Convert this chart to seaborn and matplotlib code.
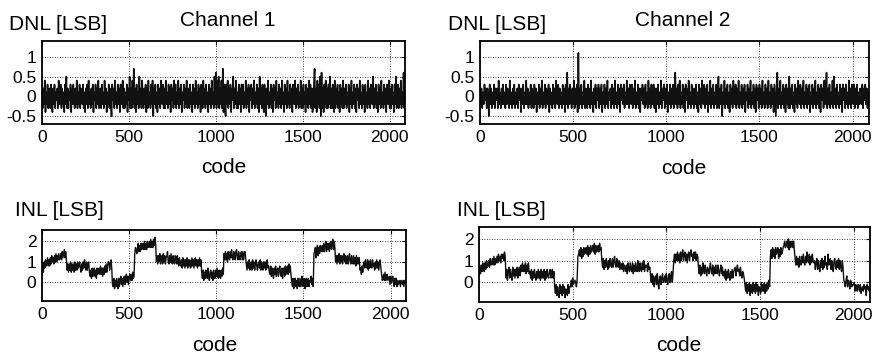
import numpy as np
import pandas as pd
import matplotlib
matplotlib.use("Agg")
import matplotlib.pyplot as plt
import seaborn as sns

# --- Data (values in tenths of an LSB, one sample every 4 codes) ---
CODE_STEP = 4
X_TICKS = [0, 500, 1000, 1500, 2000]
DNL_TICKS = [-0.5, 0, 0.5, 1]
DNL_TICK_LABELS = ["-0.5", "0", "0.5", "1"]
INL_TICKS = [0, 1, 2]
TITLES = ["Channel 1", "Channel 2"]

dnl_ch1 = [
    3, -3, 2, -2, 4, -4, 1, -2, 3, -3, 0, 2, -3, 3, -1, -4, 2, -2, 3, -3, 1, -1, 2, -3, 4, -2, 0, 3, -3, 2, -2, 1,
    -4, 3, -2, 5, -3, 2, -3, 1, -1, 3, -4, 2, -2, 3, -1, -3, 2, -2, 4, -3, 1, -2, 3, -3, 2, -1, -2, 3, -3, 1, -4, 2,
    -2, 3, -3, 4, -2, 1, -3, 2, -2, 3, -4, 1, -1, 3, -3, 2, -2, 4, -3, 0, 2, -3, 3, -2, 1, -3, 4, -2, 2, -4, 1, -2,
    3, -3, 2, -2, -5, 3, -1, 2, -3, 4, -2, 1, -3, 3, -2, 2, -4, 3, -1, -2, 4, -3, 2, -3, 1, -2, 3, -4, 2, -1, 5, -3,
    2, -3, 4, -2, 7, -3, 2, -4, 3, -2, 1, -3, 5, -2, 2, -3, 4, -1, -3, 2, -2, 3, -4, 2, -3, 4, -2, 1, -3, 3, -2, 4,
    -5, 2, -2, 3, -3, 1, -4, 3, -2, 2, -3, 4, -1, -2, 3, -3, 2, -3, 4, -2, 1, -3, 3, -2, 2, -4, 3, -1, 2, -3, 4, -2,
    3, -3, 1, -2, 4, -3, 2, -2, 3, -4, 1, -1, 3, -3, 2, -2, 4, -3, -1, 2, -3, 3, -2, 1, -4, 3, -2, 2, -3, 4, -2, 1,
    -3, 3, -2, 2, -4, 3, -1, -3, 4, -2, 2, -3, 3, -2, 1, -4, 3, -2, 2, -3, 4, -2, 1, -3, 5, -2, 6, -3, 4, -2, 5, -3,
    2, -2, 4, -3, 7, -4, 3, -2, -5, 3, -2, 4, -3, 2, -2, 3, -4, 2, -1, 5, -3, 2, -2, 4, -3, 1, -3, 3, -2, 2, -4, 3,
    -2, 3, -3, 1, -2, 4, -3, 2, -2, 3, -4, 2, -1, 3, -3, 2, -2, 4, -3, 1, -2, 3, -3, 2, -4, 5, -2, 2, -3, 3, -2, -4,
    3, -3, -5, 2, -2, 4, -3, 1, -2, 3, -3, 2, -4, 3, -1, 2, -3, 4, -2, 1, -3, 3, -2, 2, -3, 4, -2, 1, -4, 3, -2, 2,
    -3, 4, -2, 1, -3, 3, -2, 2, -4, 3, -1, -2, 4, -3, 2, -2, 3, -3, 1, -2, 4, -3, 2, -3, 3, -2, 1, -4, 3, -2, 2, -3,
    4, -2, 3, -3, 2, -4, -2, 3, 7, -3, 2, -4, 4, -2, 3, -3, 5, -5, 6, -3, 2, -4, 3, -2, 4, -3, 2, -3, 3, -2, 5, -3,
    2, -3, 3, -2, -4, 4, -3, 2, -2, 3, -3, 1, -4, 3, -2, 2, -3, 4, -3, 2, -2, 3, -3, 1, -2, 3, -4, 2, -2, 4, -3, 1,
    -2, 3, -3, 2, -4, 3, -1, 2, -3, 4, -2, 1, -3, 3, -2, 2, -4, 3, -2, 1, -3, 4, -2, 2, -3, 3, -1, -2, 5, -3, 2, -2,
    3, -3, 1, -4, 3, -2, 2, -3, 4, -2, 1, -3, 3, -2, 2, -4, 3, -1, -2, 4, -3, 2, -3, 3, -2, 1, -4, 3, -2, 5, -3, 2,
    3, -3, 2, -2, 4, -3, 1, -2, 6, -3, 2,
]

dnl_ch2 = [
    3, -2, 2, -3, 1, -2, 3, -1, 2, -3, 2, -1, -5, 3, -2, 2, -3, 1, -2, 3, -3, 2, -1, 2, -3, 4, -2, 1, -3, 2, -2, 3,
    -2, 1, -3, 3, -2, 2, -1, -3, 4, -2, 1, -3, 2, -2, 3, -3, 1, -2, 2, -3, 3, -1, 2, -4, 2, -2, 3, -3, 1, -2, 4, -2,
    2, -3, 1, -2, 3, -3, 2, -1, -3, 3, -2, 2, -4, 1, -2, 3, -3, 2, -2, 4, -3, 1, -2, 3, -3, 2, -1, -2, 3, -4, 2, -2,
    1, -3, 3, -2, 2, -3, 4, -1, -2, 3, -3, 2, -2, 1, -3, 3, -2, 2, -4, 3, -2, 6, -3, 2, -2, 3, -1, -3, 2, -2, 4, -3,
    2, -2, 3, -4, 11, -3, 2, -2, 3, -3, 1, -2, 4, -3, 2, -1, -3, 3, -2, 2, -3, 4, -2, 1, -4, 2, -2, 3, -3, 2, -1, 3,
    -3, 2, -2, 3, -4, 1, -2, 3, -3, 2, -2, 4, -3, 1, -1, 2, -3, 3, -2, 2, -3, 4, -2, 1, -3, 3, -2, 2, -4, 3, -1, 2,
    -2, 3, -3, 1, -2, 4, -2, 2, -3, 3, -1, -2, 3, -3, 2, -2, 4, -3, 1, -2, 3, -3, 2, -4, 2, -1, 3, -2, 2, -3, 3, -2,
    1, -3, 4, -2, 2, -3, 3, -1, -2, 3, -3, 2, -4, 2, -2, 3, -3, 1, -2, 4, -3, 2, -1, 3, -3, 2, -2, 3, -4, 1, -2, 3,
    -3, 2, -2, 3, -3, 1, 6, -2, 2, -3, 3, -2, 4, -3, 1, -2, 3, -3, 2, -4, 3, -1, 2, -3, 4, -2, 1, -3, 3, -2, 2, -3,
    2, -2, 3, -3, 1, -4, 3, -2, 2, -3, 4, -1, -2, 3, -3, 2, -2, 3, -4, 1, -2, 4, -3, 2, -2, 3, -3, 1, -2, 3, -3, 2,
    5, -3, 2, -2, 3, -5, 1, -2, 4, -3, 2, -2, 3, -3, 1, -4, 3, -2, 2, -3, 4, -1, -2, 3, -3, 2, -2, 4, -3, 1, -2, 3,
    -3, 2, -2, 3, -4, 1, -1, 3, -3, 2, -2, 4, -3, 1, -2, 3, -3, 2, -4, 3, -1, 2, -3, 3, -2, 2, -3, 4, -2, 1, -3, 3,
    -2, 2, -3, 4, -2, 1, -3, 3, -2, 2, -4, 3, -1, -5, 3, 6, -3, 2, -2, 4, -3, 1, -2, 3, -3, 2, -4, 3, -2, 2, -3, 5,
    -3, 2, -2, 3, -3, 1, -4, 3, -2, 2, -3, 4, -1, -2, 3, -3, 2, -2, 4, -3, 1, -2, 3, -3, 2, -2, 3, -4, 1, -2, 3, -3,
    2, -2, 4, -3, 1, -2, 3, -3, 2, -4, 3, -1, 2, -3, 4, -2, 1, 6, -3, 2, -2, 3, -3, 1, -2, 4, -3, 5, -2, 2, -3, 3,
    -2, 1, -3, 3, -2, 2, -4, 3, -1, 2, -3, 3, -2, 1, -3, 4, -2, 2, -3, 3, -1, -2, 3, -3, 2, -2, 3, -3, 1, -2, 2, -1,
    -2, 3, -3, 2, -1, 3, -2, 2, -3, 1, -2,
]

inl_ch1 = [
    4, 8, 5, 10, 7, 11, 8, 10, 12, 8, 11, 8, 12, 9, 13, 10, 12, 9, 13, 10, 14, 10, 13, 11, 14, 11, 12, 14, 11, 15, 12, 14,
    16, 12, 15, 11, 6, 9, 5, 9, 6, 10, 5, 9, 6, 9, 5, 10, 6, 9, 6, 10, 7, 8, 10, 7, 5, 9, 6, 10, 7, 11, 8, 6,
    10, 6, 9, 10, 5, 3, 6, 2, 7, 3, 6, 7, 3, 6, 2, 7, 4, 5, 7, 4, 8, 4, 7, 3, 7, 4, 8, 5, 9, 5, 8, 10,
    10, 6, 9, 11, 7, -1, -2, 2, -3, 1, -2, 2, -1, -3, 2, -2, 1, 3, -1, 2, -2, 2, 3, -1, 2, 4, 0, 3, -1, 3, 4, 1,
    4, 1, 5, 2, 3, 14, 17, 16, 14, 17, 19, 15, 18, 15, 19, 16, 17, 19, 16, 20, 16, 19, 16, 20, 17, 18, 20, 17, 21, 17, 20, 17,
    21, 18, 22, 19, 10, 13, 9, 13, 10, 14, 9, 12, 13, 9, 14, 10, 13, 9, 12, 13, 15, 10, 9, 13, 10, 14, 10, 9, 13, 10, 9, 13,
    12, 9, 13, 10, 8, 12, 9, 8, 11, 7, 12, 8, 11, 7, 11, 8, 12, 7, 11, 8, 11, 7, 8, 12, 8, 11, 7, 11, 12, 8, 11, 7,
    11, 8, 12, 8, 11, 5, 2, 6, 1, 5, 2, 6, 3, 2, 7, 3, 1, 5, 6, 2, 5, 1, 6, 3, 2, 6, 3, 7, 3, 2, 6, 3,
    2, 6, 3, 7, 4, 14, 11, 15, 11, 14, 10, 15, 12, 11, 15, 12, 16, 12, 11, 15, 12, 11, 15, 16, 12, 11, 15, 12, 11, 14, 15, 11,
    15, 11, 14, 15, 12, 9, 6, 10, 7, 11, 6, 9, 10, 6, 11, 7, 10, 6, 9, 11, 8, 6, 9, 10, 7, 11, 6, 10, 7, 6, 10, 7,
    10, 6, 9, 11, 7, 8, 5, 4, 8, 3, 7, 4, 2, 7, 4, 8, 3, 6, 7, 3, 6, 8, 4, 3, 7, 2, 6, 7, 3, 8, 4, 7,
    8, 4, 9, 5, 8, 4, 1, -2, 2, -3, 1, 2, -2, 1, -3, 2, -1, -2, 2, -2, 1, 3, -2, 1, 2, -3, 1, 2, -2, 1, 2, -2,
    1, 0, 3, -1, 2, -2, 14, 15, 17, 12, 16, 18, 13, 17, 14, 18, 15, 16, 18, 15, 19, 15, 18, 20, 15, 19, 16, 19, 15, 19, 20, 16,
    19, 21, 16, 20, 17, 10, 13, 9, 13, 10, 14, 9, 13, 10, 13, 9, 12, 14, 10, 13, 9, 12, 13, 9, 12, 14, 10, 9, 13, 10, 9, 13,
    9, 12, 8, 13, 9, 12, 9, 12, 6, 7, 4, 8, 5, 9, 10, 7, 11, 8, 7, 11, 6, 10, 7, 11, 8, 7, 11, 8, 9, 6, 10, 7,
    11, 7, 10, 6, 10, 11, 7, 4, 1, 2, 4, 1, 5, 1, 2, 4, 1, 2, 3, -1, 3, 0, 1, 3, 0, -2, 2, -1, 2, -2, 1, -1,
    0, 1, -2, 1, 0, -1, 1, -2, 1, 0, -1,
]

inl_ch2 = [
    3, 7, 4, 8, 5, 9, 8, 5, 9, 6, 10, 7, 8, 10, 7, 11, 8, 9, 11, 8, 12, 8, 11, 9, 12, 9, 13, 10, 12, 9, 13, 11,
    13, 10, 14, 12, 2, 6, 1, 5, 7, 2, 6, 3, 1, 7, 3, 6, 2, 6, 3, 7, 2, 6, 7, 3, 8, 5, 9, 5, 8, 5, 9, 4,
    8, 5, 9, 4, 5, 2, 6, 1, 5, 2, 6, 3, 1, 5, 2, 6, 2, 5, 1, 6, 2, 5, 2, 6, 1, 5, 2, 6, 3, 2, 5, 6,
    2, 5, 6, 2, 5, -2, -5, -1, -6, -2, -5, -7, -1, -5, -2, -6, -1, -5, -2, -7, -3, -4, -6, -1, -5, -2, -2, 1, -2, 2, -1, 0,
    1, 0, -2, 1, 12, 13, 15, 12, 16, 11, 15, 12, 16, 13, 14, 16, 13, 17, 12, 16, 13, 17, 14, 15, 17, 14, 18, 13, 17, 14, 15, 17,
    14, 18, 15, 16, 10, 7, 11, 6, 10, 7, 11, 8, 6, 10, 7, 11, 8, 7, 11, 7, 10, 12, 8, 7, 11, 8, 7, 10, 6, 9, 8, 6,
    9, 5, 8, 7, 5, 8, 4, 9, 6, 5, 9, 6, 5, 9, 4, 8, 5, 9, 6, 5, 10, 6, 5, 9, 6, 5, 9, 6, 10, 5, 8, 7,
    8, 5, 9, 6, 7, 3, 0, 4, -1, 3, -2, 2, 3, -1, 4, 0, -3, 2, 3, -1, 2, 4, 0, 1, 3, 0, 4, 1, -1, 3, 4, 0,
    3, 5, 0, 4, 10, 13, 9, 13, 10, 14, 10, 13, 9, 14, 10, 13, 15, 10, 13, 14, 10, 13, 9, 13, 14, 10, 13, 15, 12, 13, 10, 14,
    11, 14, 10, 13, 12, 7, 4, 8, 3, 7, 4, 9, 5, 4, 8, 5, 3, 7, 6, 4, 7, 9, 5, 4, 8, 3, 7, 4, 8, 5, 4, 8,
    5, 3, 6, 8, 4, 7, 3, 5, 2, 6, 1, 5, 2, 6, 3, 1, 5, 2, 6, 2, 5, 6, 7, 3, 6, 8, 5, 6, 3, 7, 4, 2,
    5, 4, 2, -1, -4, 0, -5, -1, -4, 0, -6, -1, -4, -5, 0, -4, -1, -5, 0, -4, -1, -6, -2, -3, -5, 0, -4, -1, -4, 0, -5, -1,
    -4, 0, -3, 1, -2, 12, 15, 11, 16, 12, 15, 11, 16, 13, 14, 16, 11, 15, 12, 16, 13, 14, 16, 17, 19, 16, 17, 19, 16, 20, 15, 19,
    16, 17, 19, 16, 19, 15, 11, 8, 12, 8, 11, 7, 12, 9, 8, 12, 9, 13, 9, 8, 12, 9, 14, 10, 9, 13, 8, 12, 9, 13, 10, 9,
    10, 6, 9, 11, 6, 10, 7, 5, 10, 7, 11, 6, 10, 7, 12, 8, 9, 6, 13, 8, 9, 11, 6, 10, 7, 5, 10, 11, 7, 6, 10, 7,
    11, 6, 10, 7, 5, 10, 7, 1, 0, -2, 1, 3, -2, 1, 0, -3, 1, 0, -2, -1, -1, 0, -4, -1, -2, -4, -1, -2, -4, -1, -5, -3,
    -2, -4, -1, -3, -2, -6, -1, -3, -2, -4, -3,
]

FONT = ["Liberation Sans", "DejaVu Sans"]


def to_frame(values):
    codes = np.arange(len(values)) * CODE_STEP
    return pd.DataFrame({"code": codes, "lsb": np.array(values) / 10.0})


def style_axes(ax, yticks, ylabels, ylim):
    ax.set_xlim(0, 2088)
    ax.set_ylim(*ylim)
    ax.set_xticks(X_TICKS)
    ax.set_xticklabels([str(t) for t in X_TICKS])
    ax.set_yticks(yticks)
    ax.set_yticklabels(ylabels)
    ax.set_xlabel("")
    ax.set_ylabel("")
    ax.grid(True, color="black", linestyle=(0, (1, 2)), linewidth=0.6)
    ax.tick_params(direction="in", length=3, width=0.8, top=True, right=True,
                   labelsize=12.5, pad=4, colors="black")
    for spine in ax.spines.values():
        spine.set_visible(True)
        spine.set_color("black")
        spine.set_linewidth(1.3)


def main():
    sns.set_theme(style="white")
    plt.rcParams["font.family"] = FONT

    W, H = 878, 355
    fig = plt.figure(figsize=(W / 100, H / 100), dpi=100)

    def box(left, top, right, bottom):
        return [left / W, 1 - bottom / H, (right - left) / W, (bottom - top) / H]

    ax_d1 = fig.add_axes(box(42, 41, 405, 124))
    ax_d2 = fig.add_axes(box(480, 41, 869, 124))
    ax_i1 = fig.add_axes(box(42, 230, 406, 301))
    ax_i2 = fig.add_axes(box(479, 227, 870, 302))

    for ax, vals in [(ax_d1, dnl_ch1), (ax_d2, dnl_ch2)]:
        sns.lineplot(data=to_frame(vals), x="code", y="lsb", ax=ax,
                     color="#111111", linewidth=1.2, estimator=None)
        style_axes(ax, DNL_TICKS, DNL_TICK_LABELS, (-0.7, 1.4))

    for ax, vals in [(ax_i1, inl_ch1), (ax_i2, inl_ch2)]:
        sns.lineplot(data=to_frame(vals), x="code", y="lsb", ax=ax,
                     color="#111111", linewidth=1.0, estimator=None)
        style_axes(ax, INL_TICKS, [str(t) for t in INL_TICKS], (-0.9, 2.55))

    def label(x, y, s, ha="left"):
        fig.text(x / W, 1 - y / H, s, ha=ha, va="baseline", fontsize=15,
                 color="black", family=FONT)

    label(9, 29.5, "DNL [LSB]")
    label(180, 26, TITLES[0])
    label(448, 29.5, "DNL [LSB]")
    label(635, 26, TITLES[1])
    label(224, 173, "code", ha="center")
    label(684, 174, "code", ha="center")
    label(15, 215.5, "INL [LSB]")
    label(457, 215.5, "INL [LSB]")
    label(215, 351, "code", ha="center")
    label(679, 351, "code", ha="center")

    fig.savefig("out.png", dpi=100)


if __name__ == "__main__":
    main()
